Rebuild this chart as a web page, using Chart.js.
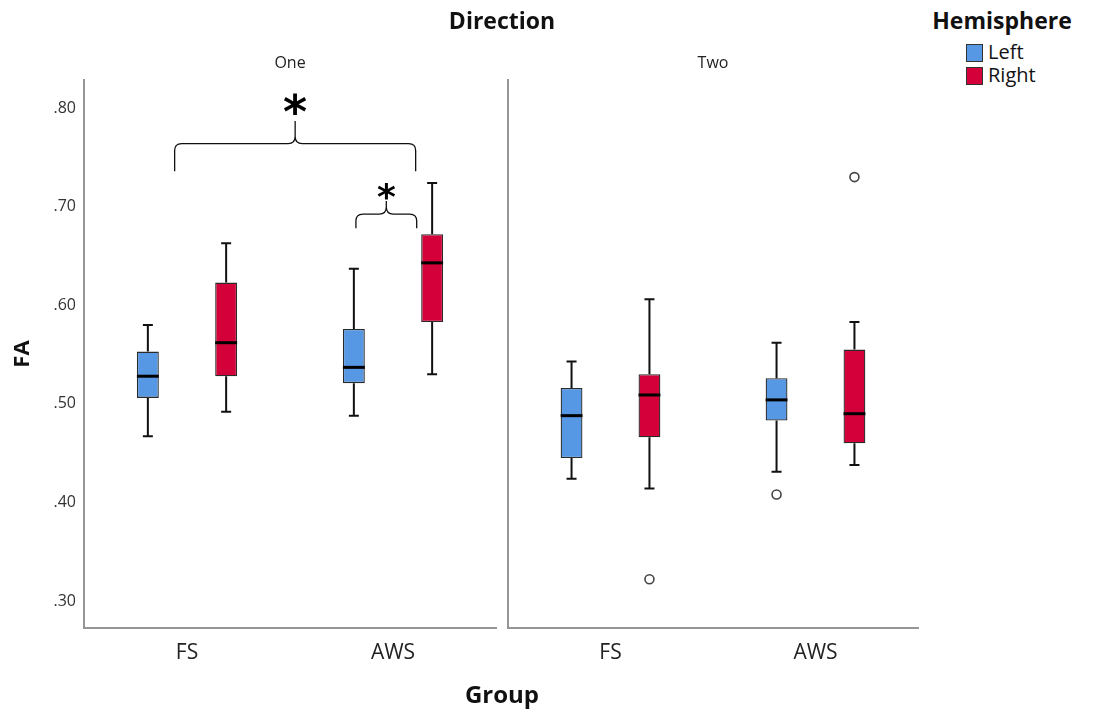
<!DOCTYPE html>
<html>
<head>
<meta charset="utf-8">
<script src="https://cdn.jsdelivr.net/npm/chart.js@4/dist/chart.umd.min.js"></script>
<style>
  body { margin: 0; background: #fff; font-family: 'Open Sans', sans-serif; color: #111; }
  #wrap { position: relative; width: 1112px; height: 715px; overflow: hidden; }
  canvas { position: absolute; top: 0; }
  .lbl { position: absolute; transform: translate(-50%, -50%); white-space: nowrap; }
  .bold { font-weight: 700; }
  .legend-item { position: absolute; left: 966px; height: 18px; }
  .legend-item span.sw { position: absolute; left: 0; top: 0; width: 17px; height: 18px; border: 1px solid #333; box-sizing: border-box; }
  .legend-item span.tx { position: absolute; left: 22px; top: -6px; font-size: 20px; }
</style>
</head>
<body>
<div id="wrap">
  <canvas id="panel-one" width="500" height="715" style="left:0"></canvas>
  <canvas id="panel-two" width="430" height="715" style="left:500px"></canvas>
  <div class="lbl bold" style="left:502px; top:20px; font-size:23px">Direction</div>
  <div class="lbl bold" style="left:1002px; top:20px; font-size:23px">Hemisphere</div>
  <div class="legend-item" style="top:44px"><span class="sw" id="sw-left"></span><span class="tx">Left</span></div>
  <div class="legend-item" style="top:67px"><span class="sw" id="sw-right"></span><span class="tx">Right</span></div>
  <div class="lbl bold" style="left:502px; top:693px; font-size:24px">Group</div>
</div>
<script>
// Categories
const groups = ['FS', 'AWS'];
const hemispheres = ['Left', 'Right'];
const yTicks = [0.30, 0.40, 0.50, 0.60, 0.70, 0.80];

// Five-number summaries per group: [min, q1, median, q3, max]
const oneLeft  = [[0.467, 0.506, 0.528, 0.553, 0.580], [0.488, 0.521, 0.537, 0.576, 0.637]];
const oneRight = [[0.492, 0.528, 0.562, 0.623, 0.663], [0.530, 0.583, 0.643, 0.672, 0.724]];
const twoLeft  = [[0.424, 0.445, 0.488, 0.516, 0.543], [0.431, 0.483, 0.504, 0.526, 0.562]];
const twoRight = [[0.414, 0.466, 0.509, 0.530, 0.606], [0.438, 0.460, 0.490, 0.555, 0.583]];

// Outliers per group
const oneLeftOut  = [[], []];
const oneRightOut = [[], []];
const twoLeftOut  = [[], [0.408]];
const twoRightOut = [[0.322], [0.730]];

// Significance brackets in panel One (x in category units, y in FA)
const brackets = [
  { from: -0.06, to: 1.11, y: 0.764, drop: 0.736, tip: 0.787, star: 0.807, size: 46 },
  { from: 0.82, to: 1.115, y: 0.6925, drop: 0.678, tip: 0.7057, star: 0.719, size: 36 }
];

const colors = ['#5698e3', '#d40039'];
const axisColor = '#959595';
document.getElementById('sw-left').style.background = colors[0];
document.getElementById('sw-right').style.background = colors[1];

// whiskers, medians and outliers on top of the floating bars
const boxPlugin = {
  id: 'boxWhiskers',
  afterDatasetsDraw(chart) {
    const ctx = chart.ctx;
    const ys = chart.scales.y;
    ctx.save();
    chart.data.datasets.forEach((ds, di) => {
      const meta = chart.getDatasetMeta(di);
      meta.data.forEach((bar, i) => {
        const [mn, q1, md, q3, mx] = ds.stats[i];
        const x = bar.x, w = bar.width;
        ctx.strokeStyle = '#111';
        ctx.lineWidth = 2;
        ctx.beginPath();
        ctx.moveTo(x, ys.getPixelForValue(q3)); ctx.lineTo(x, ys.getPixelForValue(mx));
        ctx.moveTo(x, ys.getPixelForValue(q1)); ctx.lineTo(x, ys.getPixelForValue(mn));
        ctx.moveTo(x - 5, ys.getPixelForValue(mx)); ctx.lineTo(x + 5, ys.getPixelForValue(mx));
        ctx.moveTo(x - 5, ys.getPixelForValue(mn)); ctx.lineTo(x + 5, ys.getPixelForValue(mn));
        ctx.stroke();
        ctx.lineWidth = 3;
        ctx.strokeStyle = '#000';
        ctx.beginPath();
        ctx.moveTo(x - w / 2, ys.getPixelForValue(md)); ctx.lineTo(x + w / 2, ys.getPixelForValue(md));
        ctx.stroke();
        ctx.lineWidth = 1.6;
        ctx.strokeStyle = '#444';
        ctx.fillStyle = '#fff';
        ds.outliers[i].forEach(v => {
          ctx.beginPath();
          ctx.arc(x, ys.getPixelForValue(v), 4.5, 0, Math.PI * 2);
          ctx.fill();
          ctx.stroke();
        });
      });
    });
    // panel title
    const a = chart.chartArea;
    ctx.fillStyle = '#222';
    ctx.font = '16px "Open Sans"';
    ctx.textAlign = 'center';
    ctx.textBaseline = 'middle';
    ctx.fillText(chart.options.plugins.boxWhiskers.title, (a.left + a.right) / 2, 63);

    // significance brackets
    (chart.options.plugins.boxWhiskers.brackets || []).forEach(b => {
      const xs = chart.scales.x;
      const step = xs.getPixelForValue(1) - xs.getPixelForValue(0);
      const x0 = xs.getPixelForValue(0) + b.from * step;
      const x1 = xs.getPixelForValue(0) + b.to * step;
      const xm = (x0 + x1) / 2;
      const yh = ys.getPixelForValue(b.y), yd = ys.getPixelForValue(b.drop), yt = ys.getPixelForValue(b.tip);
      const r = 7;
      ctx.strokeStyle = '#111';
      ctx.lineWidth = 1.3;
      ctx.beginPath();
      ctx.moveTo(x0, yd);
      ctx.lineTo(x0, yh + r);
      ctx.quadraticCurveTo(x0, yh, x0 + r, yh);
      ctx.lineTo(xm - r, yh);
      ctx.quadraticCurveTo(xm, yh, xm, yh - r);
      ctx.lineTo(xm, yt);
      ctx.moveTo(x1, yd);
      ctx.lineTo(x1, yh + r);
      ctx.quadraticCurveTo(x1, yh, x1 - r, yh);
      ctx.lineTo(xm + r, yh);
      ctx.quadraticCurveTo(xm, yh, xm, yh - r);
      ctx.stroke();
      ctx.fillStyle = '#000';
      ctx.font = 'bold ' + b.size + 'px "DejaVu Sans"';
      ctx.textBaseline = 'alphabetic';
      ctx.fillText('*', xm, ys.getPixelForValue(b.star) + b.size * 0.58);
    });
    ctx.restore();
  }
};

function makePanel(id, title, leftStats, rightStats, leftOut, rightOut, showY, extra) {
  const stats = [leftStats, rightStats];
  const outs = [leftOut, rightOut];
  return new Chart(document.getElementById(id), {
    type: 'bar',
    data: {
      labels: groups,
      datasets: hemispheres.map((h, k) => ({
        label: h,
        data: stats[k].map(s => [s[1], s[3]]),
        backgroundColor: colors[k],
        borderColor: '#2a2a2a',
        borderWidth: 1.3,
        borderSkipped: false,
        categoryPercentage: 0.76,
        barPercentage: 0.28,
        stats: stats[k],
        outliers: outs[k]
      }))
    },
    options: {
      responsive: false,
      animation: false,
      layout: { padding: { top: 80, right: showY ? 4 : 12, left: 0, bottom: 0 } },
      plugins: {
        legend: { display: false },
        tooltip: { enabled: false },
        boxWhiskers: { title: title, brackets: extra }
      },
      scales: {
        x: {
          offset: true,
          grid: { display: false, drawTicks: false },
          border: { color: axisColor, width: 2 },
          ticks: { font: { size: 21, family: 'Open Sans' }, color: '#222', padding: 12 },
          afterFit: s => { s.height = 87; }
        },
        y: {
          min: 0.2726,
          max: 0.8285,
          grid: { display: false, drawTicks: false },
          border: { color: axisColor, width: 2 },
          ticks: {
            display: showY,
            font: { size: 16, family: 'Open Sans' },
            color: '#333',
            padding: 8,
            callback: v => v.toFixed(2).replace(/^0/, '')
          },
          title: {
            display: showY,
            text: 'FA',
            font: { size: 22, weight: 'bold', family: 'Open Sans' },
            color: '#111',
            padding: { top: 10, bottom: 0 }
          },
          afterBuildTicks: s => { s.ticks = yTicks.map(v => ({ value: v })); },
          afterFit: s => { s.width = showY ? 84 : 8; }
        }
      }
    },
    plugins: [boxPlugin]
  });
}

makePanel('panel-one', 'One', oneLeft, oneRight, oneLeftOut, oneRightOut, true, brackets);
makePanel('panel-two', 'Two', twoLeft, twoRight, twoLeftOut, twoRightOut, false, []);
</script>
</body>
</html>
